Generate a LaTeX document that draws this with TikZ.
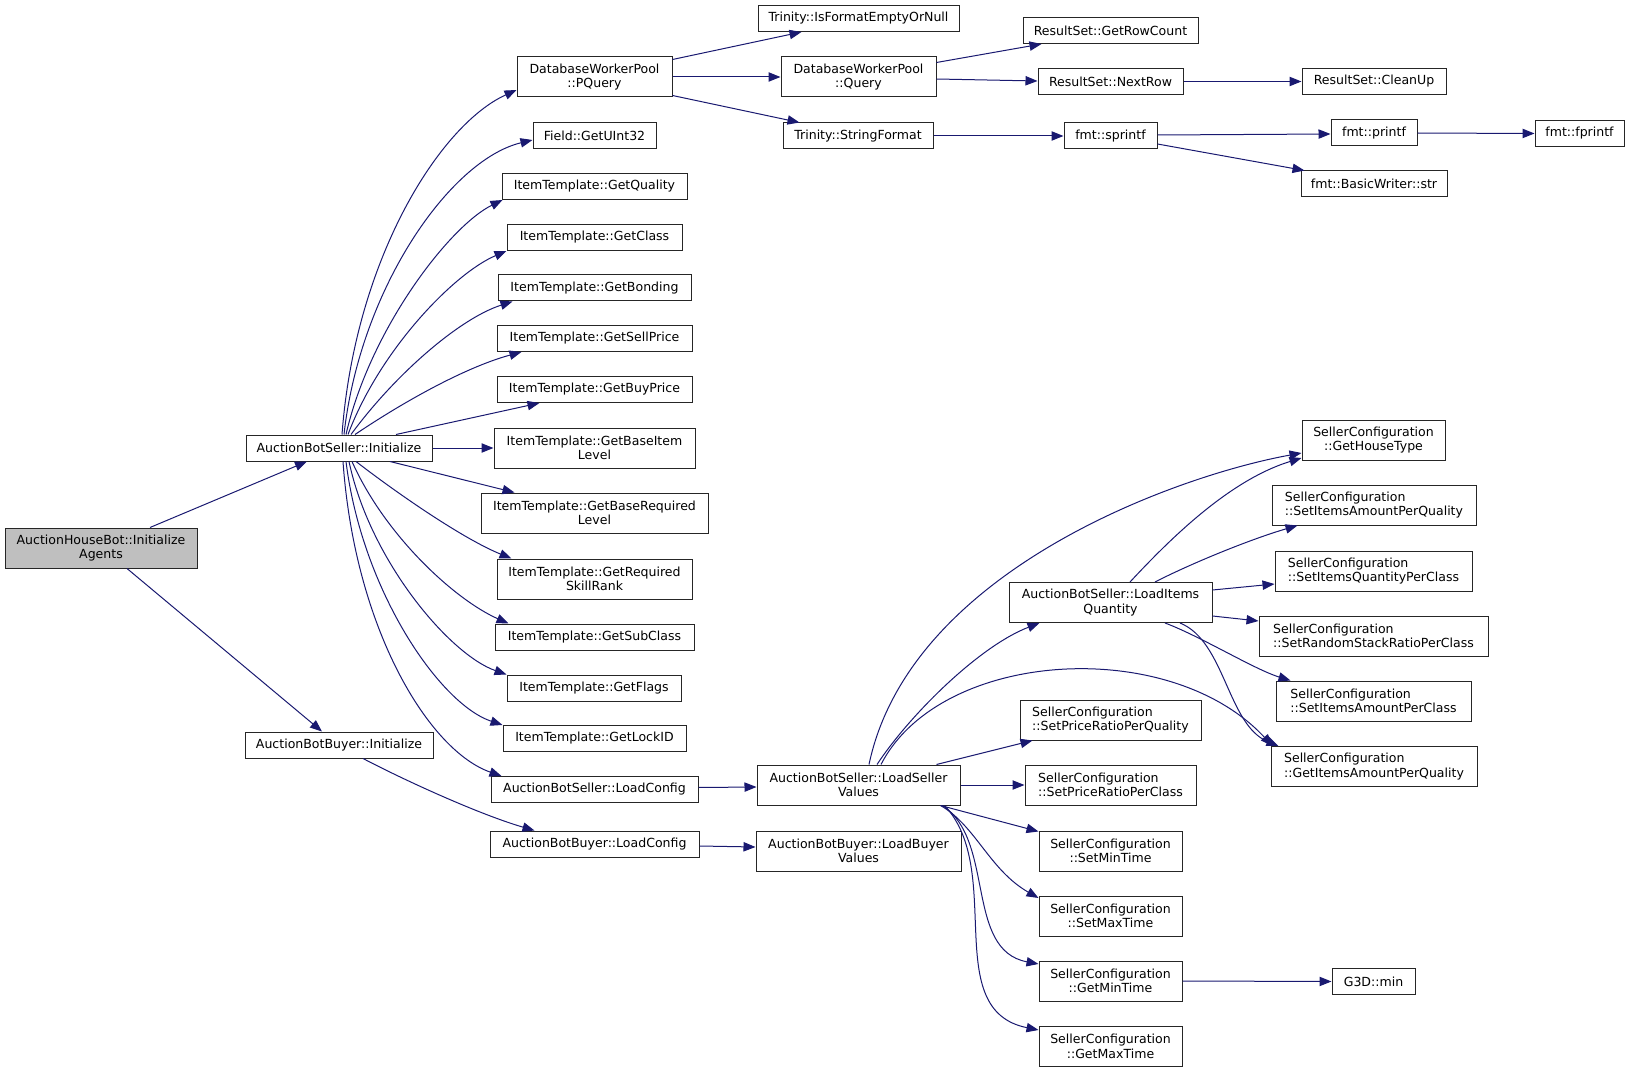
\documentclass[tikz,border=0pt]{standalone}
\usepackage{fontspec}
\setmainfont{DejaVu Sans}
\usetikzlibrary{arrows.meta,calc}
\definecolor{edgec}{HTML}{191970}
\definecolor{rootc}{HTML}{BFBFBF}
\begin{document}
\begin{tikzpicture}[x=0.75pt,y=-0.75pt,
  box/.style={draw=black!85, line width=0.75pt, fill=white, inner sep=0pt, align=center, font=\fontsize{9.4}{10.8}\selectfont},
  lbox/.style={box, align=left},
  sz/.style 2 args={minimum width=#1*0.75pt, minimum height=#2*0.75pt},
  edge/.style={draw=edgec, line width=0.75pt, -{Triangle[length=9pt,width=7pt]}}]
\useasboundingbox (0,0) rectangle (1631,1073);

\node[box,fill=rootc,sz={192}{40}] (ahb) at (101,548) {AuctionHouseBot::Initialize\\Agents};
\node[box,sz={186}{26}] (absi) at (339,448) {AuctionBotSeller::Initialize};
\node[box,sz={188}{26}] (abbi) at (339,745) {AuctionBotBuyer::Initialize};
\node[box,sz={155}{40}] (pq) at (594.5,77) {DatabaseWorkerPool\\::PQuery};
\node[box,sz={123}{26}] (gu32) at (594.5,136) {Field::GetUInt32};
\node[box,sz={185}{26}] (gq) at (594.5,186.5) {ItemTemplate::GetQuality};
\node[box,sz={175}{26}] (gcl) at (594.5,237.5) {ItemTemplate::GetClass};
\node[box,sz={193}{26}] (gbo) at (594.5,288) {ItemTemplate::GetBonding};
\node[box,sz={195}{26}] (gsp) at (594.5,338.5) {ItemTemplate::GetSellPrice};
\node[box,sz={195}{26}] (gbp) at (594.5,389.5) {ItemTemplate::GetBuyPrice};
\node[box,sz={201}{40}] (gbil) at (594.5,448) {ItemTemplate::GetBaseItem\\Level};
\node[box,sz={227}{40}] (gbrl) at (594.5,513) {ItemTemplate::GetBaseRequired\\Level};
\node[box,sz={195}{40}] (grsr) at (594.5,579) {ItemTemplate::GetRequired\\SkillRank};
\node[box,sz={199}{26}] (gsc) at (594.5,637) {ItemTemplate::GetSubClass};
\node[box,sz={174}{26}] (gfl) at (594,688) {ItemTemplate::GetFlags};
\node[box,sz={183}{26}] (glid) at (594.5,738.5) {ItemTemplate::GetLockID};
\node[box,sz={207}{26}] (abslc) at (594.5,789.5) {AuctionBotSeller::LoadConfig};
\node[box,sz={209}{26}] (abblc) at (594.5,844) {AuctionBotBuyer::LoadConfig};
\node[box,sz={201}{26}] (ifen) at (858.5,18.5) {Trinity::IsFormatEmptyOrNull};
\node[box,sz={155}{40}] (dwpq) at (858.5,77) {DatabaseWorkerPool\\::Query};
\node[box,sz={150}{26}] (sf) at (858,136) {Trinity::StringFormat};
\node[box,sz={203}{40}] (lsv) at (858.5,785) {AuctionBotSeller::LoadSeller\\Values};
\node[box,sz={205}{40}] (lbv) at (858.5,851) {AuctionBotBuyer::LoadBuyer\\Values};
\node[box,sz={175}{26}] (grc) at (1110.5,30.5) {ResultSet::GetRowCount};
\node[box,sz={145}{26}] (nr) at (1110.5,81.5) {ResultSet::NextRow};
\node[box,sz={93}{26}] (spf) at (1110.5,136) {fmt::sprintf};
\node[box,sz={203}{40}] (lia) at (1110.5,602.5) {AuctionBotSeller::LoadItems\\Quantity};
\node[lbox,sz={181}{40}] (sprq) at (1110.5,720) {SellerConfiguration\\::SetPriceRatioPerQuality};
\node[lbox,sz={171}{40}] (sprc) at (1110.5,785) {SellerConfiguration\\::SetPriceRatioPerClass};
\node[box,sz={143}{40}] (smin) at (1110.5,851) {SellerConfiguration\\::SetMinTime};
\node[box,sz={143}{40}] (smax) at (1110.5,916) {SellerConfiguration\\::SetMaxTime};
\node[box,sz={143}{40}] (gmin) at (1110.5,981) {SellerConfiguration\\::GetMinTime};
\node[box,sz={143}{40}] (gmax) at (1110.5,1046.5) {SellerConfiguration\\::GetMaxTime};
\node[box,sz={144}{26}] (cu) at (1374,81.5) {ResultSet::CleanUp};
\node[box,sz={86}{26}] (pf) at (1374,133) {fmt::printf};
\node[box,sz={146}{26}] (bws) at (1374,184) {fmt::BasicWriter::str};
\node[box,sz={143}{40}] (ght) at (1373.5,440) {SellerConfiguration\\::GetHouseType};
\node[lbox,sz={204}{40}] (siapq) at (1374,505) {SellerConfiguration\\::SetItemsAmountPerQuality};
\node[lbox,sz={197}{40}] (siqpc) at (1373.5,571) {SellerConfiguration\\::SetItemsQuantityPerClass};
\node[lbox,sz={229}{40}] (srsrpc) at (1373.5,636) {SellerConfiguration\\::SetRandomStackRatioPerClass};
\node[lbox,sz={195}{40}] (siapc) at (1373.5,701) {SellerConfiguration\\::SetItemsAmountPerClass};
\node[lbox,sz={206}{40}] (giapq) at (1374,766.5) {SellerConfiguration\\::GetItemsAmountPerQuality};
\node[box,sz={83}{26}] (g3d) at (1373.5,981.5) {G3D::min};
\node[box,sz={89}{26}] (fpf) at (1579.5,133.5) {fmt::fprintf};

\draw[edge] ($(ahb.north)+(49,0)$) -- ($(absi.south)+(-32,0)$);
\draw[edge] ($(ahb.south)+(26,0)$) -- ($(abbi.north)+(-17,0)$);
\draw[edge] ($(absi.north)+(3,0)$) .. controls +(13,-175) and +(-77,35) .. ($(pq.west)+(0,13)$);
\draw[edge] ($(absi.north)+(5,0)$) .. controls +(16,-145) and +(-83,20) .. ($(gu32.west)+(0,4)$);
\draw[edge] ($(absi.north)+(7,0)$) .. controls +(24,-105) and +(-53,26) .. ($(gq.south west)+(1,0)$);
\draw[edge] ($(absi.north)+(9,0)$) .. controls +(32,-85) and +(-52,22) .. (gcl.south west);
\draw[edge] ($(absi.north)+(12,0)$) .. controls +(44,-60) and +(-53,17) .. ($(gbo.south west)+(15,0)$);
\draw[edge] ($(absi.north)+(16,0)$) .. controls +(55,-37) and +(-52,14) .. ($(gsp.south west)+(25,0)$);
\draw[edge] ($(absi.north)+(57,0)$) -- ($(gbp.south west)+(43,0)$);
\draw[edge] (absi.east) -- (gbil.west);
\draw[edge] ($(absi.south)+(51,0)$) -- ($(gbrl.north west)+(34,0)$);
\draw[edge] ($(absi.south)+(17,0)$) .. controls +(44,34) and +(-47,-19) .. ($(grsr.north west)+(15,0)$);
\draw[edge] ($(absi.south)+(13,0)$) .. controls +(33,74) and +(-54,-24) .. ($(gsc.north west)+(14,0)$);
\draw[edge] ($(absi.south)+(10,0)$) .. controls +(21,99) and +(-57,-20) .. (gfl.north west);
\draw[edge] ($(absi.south)+(7,0)$) .. controls +(16,129) and +(-63,-21) .. (glid.north west);
\draw[edge] ($(absi.south)+(4,0)$) .. controls +(12,169) and +(-72,-25) .. ($(abslc.north west)+(11,0)$);
\draw[edge] ($(abbi.south)+(24,0)$) .. controls +(42,22) and +(-55,-16) .. ($(abblc.north west)+(45,0)$);
\draw[edge] ($(abslc.east)+(0,-2)$) -- ($(lsv.west)+(0,2)$);
\draw[edge] ($(abblc.east)+(0,2)$) -- ($(lbv.west)+(0,-4)$);
\draw[edge] ($(pq.north east)+(0,3)$) -- ($(ifen.south west)+(44,0)$);
\draw[edge] (pq.east) -- (dwpq.west);
\draw[edge] ($(pq.south east)+(0,-2)$) -- ($(sf.north west)+(17,0)$);
\draw[edge] ($(dwpq.north east)+(0,6)$) -- ($(grc.south west)+(19,0)$);
\draw[edge] ($(dwpq.east)+(0,2)$) -- ($(nr.west)+(0,-0.5)$);
\draw[edge] (sf.east) -- (spf.west);
\draw[edge] (nr.east) -- (cu.west);
\draw[edge] ($(spf.east)+(0,-1)$) -- ($(pf.west)+(0,1)$);
\draw[edge] ($(spf.east)+(0,8)$) -- ($(bws.north west)+(4,0)$);
\draw[edge] (pf.east) -- (fpf.west);

\draw[edge] ($(lsv.north)+(10.5,0)$) .. controls +(41,-195) and +(-122,22) .. ($(ght.west)+(0,13)$);
\draw[edge] ($(lsv.north)+(18.5,0)$) .. controls +(33,-50) and +(-60,23) .. ($(lia.south west)+(31,0)$);
\draw[edge] ($(lsv.north)+(22.5,0)$) .. controls +(59,-115) and +(-103,-111) .. ($(giapq.north west)+(2,0)$);
\draw[edge] ($(lsv.north east)+(-24,0)$) -- ($(sprq.south west)+(13,0)$);
\draw[edge] (lsv.east) -- (sprc.west);
\draw[edge] ($(lsv.south east)+(-20,0)$) -- ($(smin.north west)+(0,1)$);
\draw[edge] ($(lsv.south east)+(-20,0)$) .. controls +(35,20) and +(-49,-28) .. ($(smax.west)+(0,-18)$);
\draw[edge] ($(lsv.south east)+(-18,0)$) .. controls +(53,35) and +(-74,-14) .. ($(gmin.west)+(0,-17)$);
\draw[edge] ($(lsv.south east)+(-16,0)$) .. controls +(61,65) and +(-99,-20) .. ($(gmax.west)+(0,-16.5)$);

\draw[edge] ($(lia.north)+(19.5,0)$) .. controls +(40,-43) and +(-72,22) .. ($(ght.west)+(0,18)$);
\draw[edge] ($(lia.north)+(44.5,0)$) .. controls +(35,-18) and +(-48,14) .. ($(siapq.south west)+(26,0)$);
\draw[edge] ($(lia.east)+(0,-12.5)$) -- ($(siqpc.west)+(0,13)$);
\draw[edge] ($(lia.east)+(0,13.5)$) -- ($(srsrpc.west)+(0,-15)$);
\draw[edge] ($(lia.south)+(54.5,0)$) .. controls +(35,13) and +(-36,-11) .. ($(siapc.north west)+(15,0)$);
\draw[edge] ($(lia.south)+(69.5,0)$) .. controls +(45,18) and +(-51,-21) .. ($(giapq.north west)+(8,0)$);
\draw[edge] (gmin.east) -- (g3d.west);
\end{tikzpicture}
\end{document}
